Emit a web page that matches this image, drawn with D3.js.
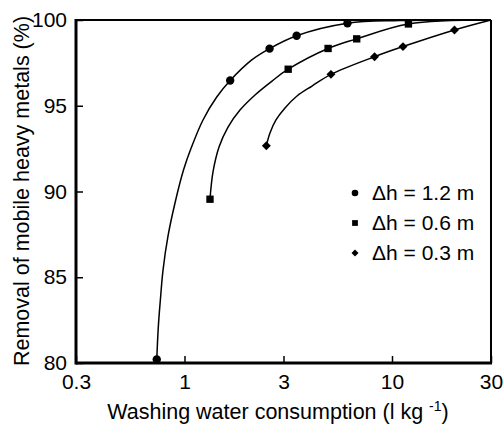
<!DOCTYPE html>
<html lang="en">
<head>
<meta charset="UTF-8">
<title>Removal of mobile heavy metals</title>
<script src="https://cdn.jsdelivr.net/npm/d3@7"></script>
<style>
  body { margin: 0; background: #fff; }
  svg { font-family: "Liberation Sans", Arial, sans-serif; }
  .fit { fill: none; stroke: #000; stroke-width: 1.5px; }
  .tick line { stroke: #000; stroke-width: 1.5px; }
  .tick text { font-size: 21px; fill: #000; }
</style>
</head>
<body>
<svg width="503" height="424"></svg>
<script>
// measured points, washing water (l/kg) vs removal (%)
var x12 = [0.735, 1.66, 2.57, 3.47, 6.10];
var y12 = [80.2, 96.47, 98.33, 99.08, 99.81];
var x06 = [1.327, 3.16, 4.92, 6.76, 12.0];
var y06 = [89.55, 97.13, 98.34, 98.90, 99.77];
var x03 = [2.48, 5.08, 8.24, 11.3, 20.0];
var y03 = [92.67, 96.83, 97.86, 98.45, 99.42];

// fitted curves
var fitX12 = [0.735, 0.748, 0.765, 0.788, 0.833, 0.900, 0.989, 1.081, 1.228, 1.43, 1.66, 2.11, 2.57, 3.47, 6.10, 10.9, 30];
var fitY12 = [80.2, 82.12, 83.67, 85.42, 87.41, 89.33, 91.25, 92.59, 94.17, 95.51, 96.47, 97.67, 98.33, 99.08, 99.81, 99.97, 100];
var fitX06 = [1.327, 1.372, 1.467, 1.621, 1.851, 2.187, 2.641, 3.16, 4.92, 6.76, 12.0, 30];
var fitY06 = [89.55, 91.14, 92.6, 93.76, 94.75, 95.63, 96.44, 97.13, 98.34, 98.90, 99.77, 100];
var fitX03 = [2.48, 2.582, 2.76, 3.05, 3.485, 4.117, 5.08, 8.24, 11.3, 20.0, 30];
var fitY03 = [92.67, 93.41, 94.17, 94.87, 95.57, 96.15, 96.83, 97.86, 98.45, 99.42, 100];

var labels = ["\u0394h = 1.2 m", "\u0394h = 0.6 m", "\u0394h = 0.3 m"];
var xTicks = [0.3, 1, 3, 10, 30];
var yTicks = [80, 85, 90, 95, 100];

var svg = d3.select("svg");
var mLeft = 76, mRight = 491, mTop = 20, mBottom = 363;

var x = d3.scaleLog().domain([0.3, 30]).range([mLeft, mRight]);
var y = d3.scaleLinear().domain([80, 100]).range([mBottom, mTop]);

var series = [
  { xs: x12, ys: y12, fx: fitX12, fy: fitY12, shape: "circle" },
  { xs: x06, ys: y06, fx: fitX06, fy: fitY06, shape: "square" },
  { xs: x03, ys: y03, fx: fitX03, fy: fitY03, shape: "diamond" }
];

function marker(g, shape, s) {
  if (shape === "circle") {
    g.append("path").attr("d", d3.symbol(d3.symbolCircle, Math.PI * s * s)());
  } else if (shape === "square") {
    g.append("path").attr("d", d3.symbol(d3.symbolSquare, (s * 1.75) * (s * 1.75))());
  } else {
    g.append("path").attr("d", d3.symbol(d3.symbolSquare, (s * 1.5) * (s * 1.5))())
      .attr("transform", "rotate(45)");
  }
}

// axes
var xAxis = d3.axisBottom(x).tickValues(xTicks).tickFormat(d3.format("")).tickSizeInner(-7).tickSizeOuter(0).tickPadding(11);
var yAxis = d3.axisLeft(y).tickValues(yTicks).tickSizeInner(-7).tickSizeOuter(0).tickPadding(9);

var gx = svg.append("g").attr("transform", "translate(0," + mBottom + ")").call(xAxis);
var gy = svg.append("g").attr("transform", "translate(" + mLeft + ",0)").call(yAxis);
gx.select(".domain").remove();
gy.select(".domain").remove();
gx.selectAll(".tick text").attr("font-family", null).attr("font-size", null);
gy.selectAll(".tick text").attr("font-family", null).attr("font-size", null);

// frame
svg.append("line").attr("x1", mLeft).attr("x2", mRight).attr("y1", mTop).attr("y2", mTop)
  .attr("stroke", "#000").attr("stroke-width", 2);
svg.append("line").attr("x1", mRight).attr("x2", mRight).attr("y1", mTop).attr("y2", mBottom)
  .attr("stroke", "#000").attr("stroke-width", 2);
svg.append("line").attr("x1", mLeft).attr("x2", mLeft).attr("y1", mTop - 1).attr("y2", mBottom + 1.5)
  .attr("stroke", "#000").attr("stroke-width", 3);
svg.append("line").attr("x1", mLeft).attr("x2", mRight + 1).attr("y1", mBottom).attr("y2", mBottom)
  .attr("stroke", "#000").attr("stroke-width", 3);

// curves and markers
var line = d3.line().curve(d3.curveCatmullRom.alpha(0.5));
series.forEach(function(s) {
  var pts = s.fx.map(function(v, i) { return [x(v), y(s.fy[i])]; });
  svg.append("path").attr("class", "fit").attr("d", line(pts));
  s.xs.forEach(function(v, i) {
    var g = svg.append("g").attr("transform", "translate(" + x(v) + "," + y(s.ys[i]) + ")");
    marker(g, s.shape, 4.2);
  });
});

// legend
labels.forEach(function(t, i) {
  var yy = 193 + i * 30;
  var g = svg.append("g").attr("transform", "translate(355," + yy + ")");
  marker(g, series[i].shape, 3.3);
  svg.append("text").attr("x", 372).attr("y", yy + 7).attr("font-size", 21).text(t);
});

// axis titles
var xt = svg.append("text").attr("x", 278).attr("y", 419).attr("text-anchor", "middle").attr("font-size", 21.5);
xt.append("tspan").text("Washing water consumption (l kg ");
xt.append("tspan").attr("font-size", 14).attr("dy", -8).text("-1");
xt.append("tspan").attr("dy", 8).text(")");

svg.append("text")
  .attr("transform", "translate(29,191) rotate(-90)")
  .attr("text-anchor", "middle")
  .attr("font-size", 21.5)
  .text("Removal of mobile heavy metals (%)");
</script>
</body>
</html>
